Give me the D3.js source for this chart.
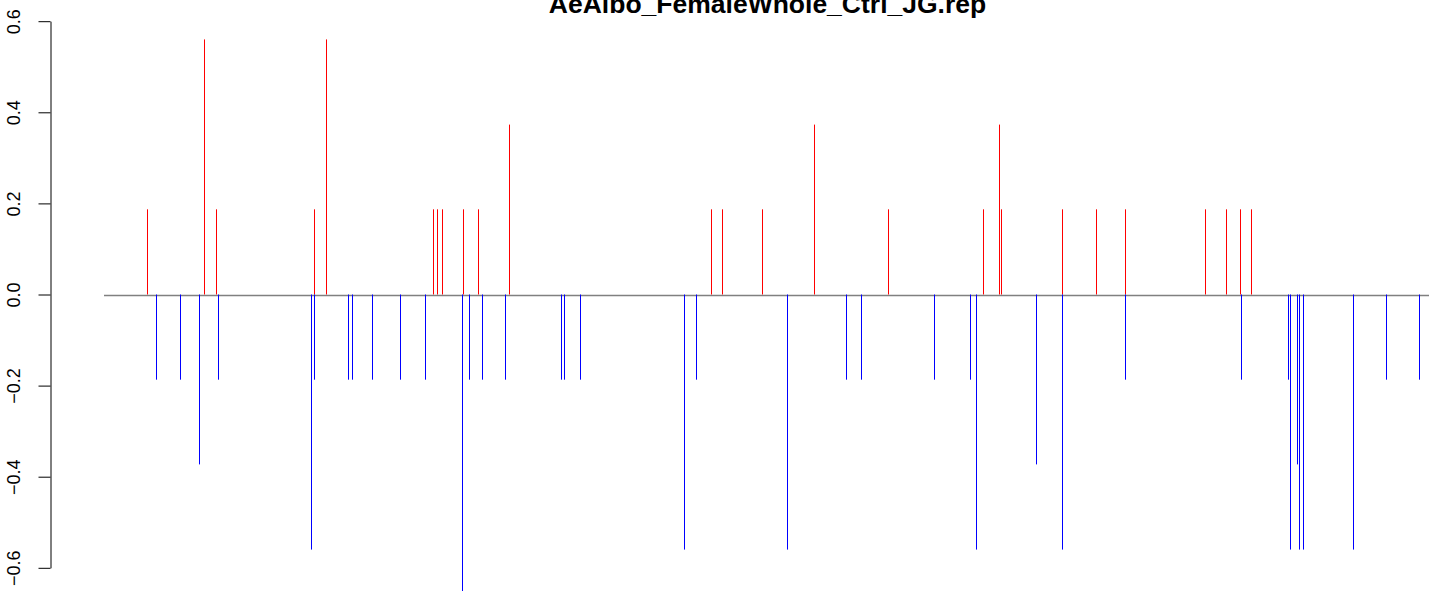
<!DOCTYPE html>
<html>
<head>
<meta charset="utf-8">
<script src="https://cdn.jsdelivr.net/npm/d3@7"></script>
<style>
  html, body { margin: 0; padding: 0; background: #fff; }
  svg { display: block; font-family: "Liberation Sans", Arial, Helvetica, sans-serif; }
</style>
</head>
<body>
<script>
// ---- data ----
const title = "AeAlbo_FemaleWhole_Ctrl_JG.rep";
// position along the sequence (arbitrary units) of each spike
const positions = [
  43, 52, 76, 95, 100, 112, 114,
  207, 210, 210, 222, 244, 248, 268, 296, 321, 329, 333, 338, 358, 359, 365, 374, 378, 401, 405,
  457, 460, 476, 580, 592, 607, 618,
  658, 683, 710, 742, 757, 784, 830, 866, 872, 879, 895, 897,
  932, 958, 958, 992, 1021, 1021, 1101, 1122, 1136, 1137, 1147,
  1184, 1186, 1193, 1195, 1199, 1249, 1282, 1315
];
// spike values
const values = [
  0.187, -0.187, -0.187, -0.373, 0.56, 0.187, -0.187,
  -0.56, 0.187, -0.187, 0.56, -0.187, -0.187, -0.187, -0.187, -0.187, 0.187, 0.187, 0.187, -0.746, 0.187, -0.187, 0.187, -0.187, -0.187, 0.373,
  -0.187, -0.187, -0.187, -0.56, -0.187, 0.187, 0.187,
  0.187, -0.56, 0.373, -0.187, -0.187, 0.187, -0.187, -0.187, -0.56, 0.187, 0.373, 0.187,
  -0.373, 0.187, -0.56, 0.187, 0.187, -0.187, 0.187, 0.187, 0.187, -0.187, 0.187,
  -0.187, -0.56, -0.373, -0.56, -0.56, -0.56, -0.187, -0.187
];
const yTicks = [-0.6, -0.4, -0.2, 0.0, 0.2, 0.4, 0.6];
const xExtent = [0, 1325];

// ---- drawing ----
const W = 1429, H = 591;
const svg = d3.select("body").append("svg").attr("width", W).attr("height", H);

const x = d3.scaleLinear().domain(xExtent).range([104.5, 1429.5]);
const y = d3.scaleLinear().domain([-0.6, 0.6]).range([567.8, 21.2]);

// title
svg.append("text")
  .attr("x", 767.5).attr("y", 13)
  .attr("text-anchor", "middle")
  .attr("font-weight", "bold")
  .attr("font-size", 26.5)
  .text(title);

// baseline
svg.append("line")
  .attr("x1", x(xExtent[0]) - 0.5).attr("x2", x(xExtent[1]))
  .attr("y1", Math.round(y(0)) + 0.5).attr("y2", Math.round(y(0)) + 0.5)
  .attr("stroke", "#808080").attr("stroke-width", 1.3);

// spikes
const data = positions.map((p, i) => ({ p, v: values[i] }));
svg.append("g").selectAll("line").data(data).join("line")
  .attr("x1", d => x(d.p)).attr("x2", d => x(d.p))
  .attr("y1", y(0)).attr("y2", d => y(d.v))
  .attr("stroke", d => d.v > 0 ? "#ff0000" : "#0000ff")
  .attr("stroke-width", 1);

// y axis
const axis = d3.axisLeft(y).tickValues(yTicks).tickSize(12).tickSizeOuter(0)
  .tickFormat(d3.format(".1f"));
const gy = svg.append("g").attr("transform", "translate(50.5,0)").call(axis);
gy.select(".domain").attr("stroke", "#000").attr("stroke-width", 1);
gy.selectAll(".tick line").attr("stroke", "#000").attr("stroke-width", 1);
gy.selectAll(".tick text")
  .attr("font-size", 18)
  .attr("font-family", "'Liberation Sans', Arial, sans-serif")
  .attr("fill", "#000")
  .attr("text-anchor", "middle")
  .attr("dy", 0)
  .attr("x", 0)
  .attr("y", -30.5)
  .attr("transform", "rotate(-90)");
</script>
</body>
</html>
